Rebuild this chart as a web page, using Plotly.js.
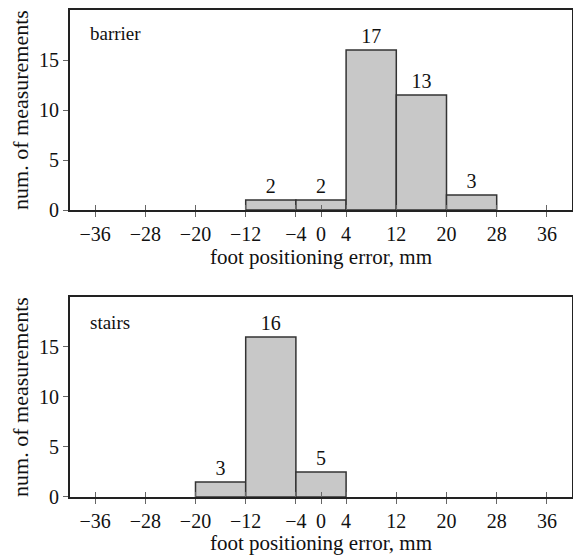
<!DOCTYPE html>
<html>
<head>
<meta charset="utf-8">
<script src="https://cdn.plot.ly/plotly-3.0.1.min.js"></script>
<style>html,body{margin:0;padding:0;background:#fff;}#chart{width:573px;height:555px;}</style>
</head>
<body>
<div id="chart"></div>
<script>
// Data
const binWidth = 8;
const barrierCenters = [-8, 0, 8, 16, 24];
const barrierHeights = [1, 1, 16, 11.5, 1.5];
const barrierLabels = ["2", "2", "17", "13", "3"];
const stairsCenters = [-16, -8, 0];
const stairsHeights = [1.5, 16, 2.5];
const stairsLabels = ["3", "16", "5"];
const xTickVals = [-36, -28, -20, -12, -4, 0, 4, 12, 20, 28, 36];
const xTickText = ["\u221236", "\u221228", "\u221220", "\u221212", "\u22124", "0", "4", "12", "20", "28", "36"];
const yTickVals = [0, 5, 10, 15];
const panelNames = ["barrier", "stairs"];

const FONT = "Liberation Serif, Times New Roman, serif";
const barStyle = {color: "#c8c8c8", line: {color: "#333", width: 1.5}};

const traces = [
  {type: "bar", x: barrierCenters, y: barrierHeights, width: barrierCenters.map(() => binWidth),
   marker: barStyle, text: barrierLabels, textposition: "outside", cliponaxis: false,
   textfont: {family: FONT, size: 20, color: "#111"}, xaxis: "x", yaxis: "y", hoverinfo: "none"},
  {type: "bar", x: stairsCenters, y: stairsHeights, width: stairsCenters.map(() => binWidth),
   marker: barStyle, text: stairsLabels, textposition: "outside", cliponaxis: false,
   textfont: {family: FONT, size: 20, color: "#111"}, xaxis: "x2", yaxis: "y2", hoverinfo: "none"}
];

function xAxis(anchor) {
  return {
    anchor: anchor, range: [-40, 40], tickmode: "array", tickvals: xTickVals, ticktext: xTickText,
    ticks: "outside", ticklen: 5, tickcolor: "#666", tickwidth: 1,
    showline: true, linecolor: "#222", linewidth: 2, mirror: true,
    showgrid: false, zeroline: false,
    tickfont: {family: FONT, size: 20, color: "#111"},
    title: {text: "foot positioning error, mm", font: {family: FONT, size: 21, color: "#111"}, standoff: 0}
  };
}
function xInner(anchor, over) {
  return {
    anchor: anchor, overlaying: over, range: [-40, 40], tickmode: "array", tickvals: xTickVals,
    ticks: "inside", ticklen: 5, tickcolor: "#666", tickwidth: 1,
    showticklabels: false, showline: false, showgrid: false, zeroline: false
  };
}
function yAxis(anchor, domain) {
  return {
    anchor: anchor, domain: domain, range: [0, 20], tickmode: "array", tickvals: yTickVals,
    ticks: "outside", ticklen: 5, tickcolor: "#666", tickwidth: 1,
    showline: true, linecolor: "#222", linewidth: 2, mirror: true,
    showgrid: false, zeroline: false,
    tickfont: {family: FONT, size: 20, color: "#111"},
    title: {text: "num. of measurements", font: {family: FONT, size: 22, color: "#111"}, standoff: 4}
  };
}

const layout = {
  width: 573, height: 555,
  margin: {l: 70, r: 1, t: 10, b: 58},
  paper_bgcolor: "#fff", plot_bgcolor: "#fff",
  showlegend: false, bargap: 0,
  xaxis: xAxis("y"),
  yaxis: yAxis("x", [0.5893, 1]),
  xaxis2: xAxis("y2"),
  yaxis2: yAxis("x2", [0, 0.4107]),
  xaxis3: xInner("y", "x"),
  xaxis4: xInner("y2", "x2"),
  annotations: [
    {text: panelNames[0], xref: "x domain", yref: "y domain", x: 0.035, y: 0.885, xanchor: "left", yanchor: "middle",
     showarrow: false, font: {family: FONT, size: 19, color: "#111"}},
    {text: panelNames[1], xref: "x2 domain", yref: "y2 domain", x: 0.035, y: 0.873, xanchor: "left", yanchor: "middle",
     showarrow: false, font: {family: FONT, size: 19, color: "#111"}}
  ]
};

// dummy traces so the overlay axes are drawn
traces.push({type: "scatter", x: [], y: [], xaxis: "x3", yaxis: "y", hoverinfo: "none"});
traces.push({type: "scatter", x: [], y: [], xaxis: "x4", yaxis: "y2", hoverinfo: "none"});

Plotly.newPlot("chart", traces, layout, {staticPlot: true});
</script>
</body>
</html>
